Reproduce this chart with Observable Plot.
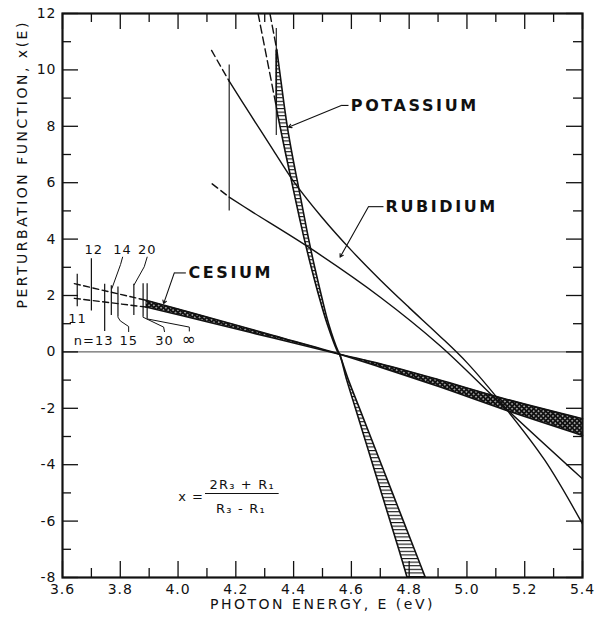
<!DOCTYPE html>
<html>
<head>
<meta charset="utf-8">
<script src="https://cdn.jsdelivr.net/npm/d3@7"></script>
<script src="https://cdn.jsdelivr.net/npm/@observablehq/plot@0.6"></script>
<style>
  html, body { margin: 0; padding: 0; background: #fff; }
  #chart svg { display: block; }
</style>
</head>
<body>
<div id="chart"></div>
<script>
// ---------- axis ticks ----------
const xTicksMajor = [3.6, 3.8, 4.0, 4.2, 4.4, 4.6, 4.8, 5.0, 5.2, 5.4];
const xTicksMinor = [3.7, 3.9, 4.1, 4.3, 4.5, 4.7, 4.9, 5.1, 5.3];
const yTicksMajor = [-8, -6, -4, -2, 0, 2, 4, 6, 8, 10, 12];
const yTicksMinor = [-7, -5, -3, -1, 1, 3, 5, 7, 9, 11];

// ---------- cesium band ----------
const csE     = [3.889, 4.10, 4.33, 4.559, 4.70, 4.90, 5.13, 5.40];
const csEdgeA = [1.83, 1.24, 0.58, -0.08, -0.54, -1.22, -2.05, -2.96];
const csEdgeB = [1.59, 1.07, 0.49, -0.08, -0.42, -0.98, -1.66, -2.37];
const csDashE = [3.641, 3.889];
const csDashA = [2.42, 1.83];
const csDashB = [1.90, 1.59];
const csSeriesN      = ["11", "12", "13", "14", "15", "20", "30", "∞"];
const csSeriesE      = [3.651, 3.700, 3.746, 3.769, 3.792, 3.847, 3.879, 3.893];
const csSeriesTop    = [2.75, 3.30, 2.40, 2.35, 2.30, 2.40, 2.42, 2.42];
const csSeriesBottom = [1.60, 1.45, 0.72, 1.29, 1.23, 1.29, 1.23, 1.17];

// ---------- potassium band ----------
const kY     = [10.7, 10, 9, 8.7, 8, 7, 6, 5, 4, 3, 2, 1, 0, -0.08, -1, -2, -3, -4, -5, -6, -7, -8];
const kLeft  = [4.340, 4.340, 4.340, 4.340, 4.353, 4.373, 4.394, 4.415, 4.437, 4.461, 4.487, 4.516, 4.553, 4.559, 4.584, 4.614, 4.644, 4.674, 4.704, 4.734, 4.764, 4.793];
const kRight = [4.342, 4.351, 4.364, 4.368, 4.378, 4.395, 4.414, 4.433, 4.452, 4.473, 4.496, 4.521, 4.555, 4.559, 4.590, 4.628, 4.666, 4.704, 4.742, 4.780, 4.818, 4.856];
const kDashAE = [4.277, 4.340], kDashA = [12, 8.7];
const kDashBE = [4.318, 4.342], kDashB = [12, 10.7];
const kLimitE = [4.340], kLimitLow = [7.67], kLimitHigh = [11.47];

// ---------- rubidium curves ----------
const rbAE = [4.177, 4.25, 4.33, 4.40, 4.50, 4.60, 4.70, 4.80, 4.90, 5.00, 5.13, 5.27, 5.40];
const rbA  = [9.60, 8.42, 7.15, 6.05, 4.75, 3.60, 2.55, 1.57, 0.62, -0.38, -1.95, -3.85, -6.10];
const rbBE = [4.177, 4.25, 4.46, 4.70, 4.907, 5.13, 5.40];
const rbB  = [5.49, 5.01, 3.66, 1.94, 0.22, -1.96, -4.50];
const rbDashAE = [4.116, 4.177], rbDashA = [10.69, 9.60];
const rbDashBE = [4.118, 4.177], rbDashB = [5.96, 5.49];
const rbLimitE = [4.177], rbLimitLow = [5.0], rbLimitHigh = [10.17];

// ---------- annotations (data units) ----------
const elementNames  = ["POTASSIUM", "RUBIDIUM", "CESIUM"];
const elementLabelE = [4.598, 4.718, 4.036];
const elementLabelY = [8.74, 5.15, 2.80];
const leaderStubs = [
  {x1: 4.590, y1: 8.74, x2: 4.565, y2: 8.74},
  {x1: 4.711, y1: 5.15, x2: 4.659, y2: 5.15},
  {x1: 4.027, y1: 2.80, x2: 3.987, y2: 2.80}
];
const leaderArrows = [
  {x1: 4.565, y1: 8.74, x2: 4.382, y2: 7.97},
  {x1: 4.659, y1: 5.15, x2: 4.561, y2: 3.36},
  {x1: 3.987, y1: 2.80, x2: 3.950, y2: 1.71}
];
const nLabelsTop    = [{t: "12", x: 3.708, y: 3.62}, {t: "14", x: 3.808, y: 3.62}, {t: "20", x: 3.893, y: 3.62}];
const nLabelsBottom = [{t: "n=13", x: 3.708, y: 0.40}, {t: "15", x: 3.829, y: 0.40}, {t: "30", x: 3.953, y: 0.40}];
const nLabelInf = {t: "∞", x: 4.039, y: 0.44};
const nLabel11  = {t: "11", x: 3.652, y: 1.18};
const nLeaders = [
  {id: "14", pts: [[3.808, 3.36], [3.801, 3.10], [3.771, 2.25]]},
  {id: "20", pts: [[3.893, 3.36], [3.883, 3.02], [3.848, 2.38]]},
  {id: "15", pts: [[3.792, 1.23], [3.800, 1.10], [3.829, 0.90], [3.829, 0.72]]},
  {id: "30", pts: [[3.879, 1.23], [3.950, 0.88], [3.953, 0.72]]},
  {id: "inf", pts: [[3.893, 1.17], [4.039, 0.88], [4.039, 0.74]]}
];
const formula = {lhs: "x =", num: "2R₃ + R₁", den: "R₃ - R₁",
  lhsX: 4.045, lhsY: -5.13, numX: 4.222, numY: -4.70, denX: 4.218, denY: -5.55,
  barX1: 4.095, barX2: 4.350, barY: -5.02};

// ---------- build tables ----------
const pts = (xs, ys) => xs.map((x, i) => ({x, y: ys[i]}));
const csBand = csE.map((e, i) => ({e, a: csEdgeA[i], b: csEdgeB[i]}));
const kBand = kY.map((y, i) => ({y, l: kLeft[i], r: kRight[i]}));
const csSeries = csSeriesE.map((e, i) => ({e, top: csSeriesTop[i], bottom: csSeriesBottom[i], n: csSeriesN[i]}));
const leaderPts = nLeaders.flatMap(d => d.pts.map(([x, y]) => ({id: d.id, x, y})));

const H = 628, W = 601, mT = 13, mB = 51, mL = 62, mR = 19;
const innerH = H - mT - mB, innerW = W - mL - mR;
const xDom = [3.6, 5.4], yDom = [-8, 12];
// tick lengths expressed in data units (major 16 px, minor 9 px)
const yPx = (yDom[1] - yDom[0]) / innerH, xPx = (xDom[1] - xDom[0]) / innerW;
const majorLen = 16, minorLen = 9;
const curve = "catmull-rom";
const ink = "#111";
const tickStyle = {stroke: ink, strokeWidth: 1.3};

const svg = Plot.plot({
  width: W, height: H,
  marginTop: mT, marginBottom: mB, marginLeft: mL, marginRight: mR,
  style: {fontFamily: "DejaVu Sans", background: "white", color: ink},
  x: {domain: xDom},
  y: {domain: yDom},
  marks: [
    // zero line
    Plot.ruleY([0], {stroke: "#444", strokeWidth: 1}),

    // cesium band
    Plot.areaY(csBand, {x: "e", y1: "a", y2: "b", fill: "url(#csHatch)", curve}),
    Plot.line(csBand, {x: "e", y: "a", stroke: ink, strokeWidth: 1.6, curve}),
    Plot.line(csBand, {x: "e", y: "b", stroke: ink, strokeWidth: 1.6, curve}),
    Plot.line(pts(csDashE, csDashA), {x: "x", y: "y", stroke: ink, strokeWidth: 1.4, strokeDasharray: "6,3.5"}),
    Plot.line(pts(csDashE, csDashB), {x: "x", y: "y", stroke: ink, strokeWidth: 1.4, strokeDasharray: "6,3.5"}),
    Plot.ruleX(csSeries, {x: "e", y1: "bottom", y2: "top", stroke: ink, strokeWidth: 1.2}),
    Plot.line(leaderPts, {x: "x", y: "y", z: "id", stroke: ink, strokeWidth: 1}),

    // potassium band
    Plot.areaX(kBand, {y: "y", x1: "l", x2: "r", fill: "url(#kHatch)", curve, clip: true}),
    Plot.line(kBand, {x: "l", y: "y", stroke: ink, strokeWidth: 1.6, curve, clip: true}),
    Plot.line(kBand, {x: "r", y: "y", stroke: ink, strokeWidth: 1.6, curve, clip: true}),
    Plot.line(pts(kDashAE, kDashA), {x: "x", y: "y", stroke: ink, strokeWidth: 1.4, strokeDasharray: "8,4", clip: true}),
    Plot.line(pts(kDashBE, kDashB), {x: "x", y: "y", stroke: ink, strokeWidth: 1.4, strokeDasharray: "8,4", clip: true}),
    Plot.ruleX(kLimitE, {x: d => d, y1: kLimitLow[0], y2: kLimitHigh[0], stroke: ink, strokeWidth: 1.1}),

    // rubidium curves
    Plot.line(pts(rbAE, rbA), {x: "x", y: "y", stroke: ink, strokeWidth: 1.4, curve, clip: true}),
    Plot.line(pts(rbBE, rbB), {x: "x", y: "y", stroke: ink, strokeWidth: 1.4, curve, clip: true}),
    Plot.line(pts(rbDashAE, rbDashA), {x: "x", y: "y", stroke: ink, strokeWidth: 1.4, strokeDasharray: "7,4"}),
    Plot.line(pts(rbDashBE, rbDashB), {x: "x", y: "y", stroke: ink, strokeWidth: 1.4, strokeDasharray: "7,4"}),
    Plot.ruleX(rbLimitE, {x: d => d, y1: rbLimitLow[0], y2: rbLimitHigh[0], stroke: ink, strokeWidth: 1.1}),

    // element labels and leaders
    Plot.text(elementNames, {x: (d, i) => elementLabelE[i], y: (d, i) => elementLabelY[i], text: d => d,
      textAnchor: "start", fontSize: 16, fontWeight: "bold", fill: ink}),
    Plot.link(leaderStubs, {x1: "x1", y1: "y1", x2: "x2", y2: "y2", stroke: ink, strokeWidth: 1.1}),
    Plot.arrow(leaderArrows, {x1: "x1", y1: "y1", x2: "x2", y2: "y2", stroke: ink, strokeWidth: 1.1, headLength: 5}),

    // series-limit labels
    Plot.text(nLabelsTop, {x: "x", y: "y", text: "t", fontSize: 13, fill: ink}),
    Plot.text(nLabelsBottom, {x: "x", y: "y", text: "t", fontSize: 13, fill: ink}),
    Plot.text([nLabelInf], {x: "x", y: "y", text: "t", fontSize: 17, fill: ink}),
    Plot.text([nLabel11], {x: "x", y: "y", text: "t", fontSize: 13, fill: ink}),

    // formula
    Plot.text([formula], {x: "lhsX", y: "lhsY", text: "lhs", fontSize: 13, fill: ink}),
    Plot.text([formula], {x: "numX", y: "numY", text: "num", fontSize: 13, fill: ink}),
    Plot.text([formula], {x: "denX", y: "denY", text: "den", fontSize: 13, fill: ink}),
    Plot.ruleY([formula], {y: "barY", x1: "barX1", x2: "barX2", stroke: ink, strokeWidth: 1.1}),

    // inward ticks on all four sides
    Plot.ruleX(xTicksMajor, {x: d => d, y1: yDom[0], y2: yDom[0] + majorLen * yPx, ...tickStyle}),
    Plot.ruleX(xTicksMinor, {x: d => d, y1: yDom[0], y2: yDom[0] + minorLen * yPx, ...tickStyle}),
    Plot.ruleX(xTicksMajor, {x: d => d, y1: yDom[1], y2: yDom[1] - majorLen * yPx, ...tickStyle}),
    Plot.ruleX(xTicksMinor, {x: d => d, y1: yDom[1], y2: yDom[1] - minorLen * yPx, ...tickStyle}),
    Plot.ruleY(yTicksMajor, {y: d => d, x1: xDom[0], x2: xDom[0] + majorLen * xPx, ...tickStyle}),
    Plot.ruleY(yTicksMinor, {y: d => d, x1: xDom[0], x2: xDom[0] + minorLen * xPx, ...tickStyle}),
    Plot.ruleY(yTicksMajor, {y: d => d, x1: xDom[1], x2: xDom[1] - majorLen * xPx, ...tickStyle}),
    Plot.ruleY(yTicksMinor, {y: d => d, x1: xDom[1], x2: xDom[1] - minorLen * xPx, ...tickStyle}),

    // tick labels
    Plot.axisX(xTicksMajor, {anchor: "bottom", tickSize: 0, tickPadding: 7, tickFormat: d => d.toFixed(1), fontSize: 14, label: null}),
    Plot.axisY(yTicksMajor, {anchor: "left", tickSize: 0, tickPadding: 6, tickFormat: d => (d < 0 ? "-" + (-d) : String(d)), fontSize: 14, label: null}),

    // axis titles
    Plot.text(["PHOTON ENERGY, E (eV)"], {frameAnchor: "bottom", dy: 31, fontSize: 14, fill: ink}),
    Plot.text(["PERTURBATION FUNCTION, x(E)"], {frameAnchor: "left", dx: -40, dy: 13, rotate: -90, fontSize: 14, fill: ink}),

    Plot.frame({stroke: ink, strokeWidth: 2.2})
  ]
});

// hatch patterns
const defs = d3.select(svg).insert("defs", ":first-child");
const kp = defs.append("pattern").attr("id", "kHatch").attr("patternUnits", "userSpaceOnUse")
  .attr("width", 6).attr("height", 3.6);
kp.append("rect").attr("width", 6).attr("height", 3.6).attr("fill", "white");
kp.append("rect").attr("y", 0).attr("width", 6).attr("height", 1.1).attr("fill", ink);
const cp = defs.append("pattern").attr("id", "csHatch").attr("patternUnits", "userSpaceOnUse")
  .attr("width", 3.4).attr("height", 3.4).attr("patternTransform", "rotate(45)");
cp.append("rect").attr("width", 3.4).attr("height", 3.4).attr("fill", ink);
cp.append("rect").attr("x", 1.05).attr("y", 1.05).attr("width", 1.3).attr("height", 1.3).attr("fill", "white");

// letter spacing to mimic the lettering-guide text
const wide = new Set(elementNames);
const titles = new Set(["PHOTON ENERGY, E (eV)", "PERTURBATION FUNCTION, x(E)"]);
d3.select(svg).selectAll("text").each(function () {
  const t = this.textContent;
  if (wide.has(t)) this.setAttribute("letter-spacing", "2.6");
  else if (titles.has(t)) this.setAttribute("letter-spacing", "2.5");
  else if (t === formula.num || t === formula.den) this.setAttribute("letter-spacing", "1.2");
  else this.setAttribute("letter-spacing", "1");
});

document.getElementById("chart").appendChild(svg);
</script>
</body>
</html>
